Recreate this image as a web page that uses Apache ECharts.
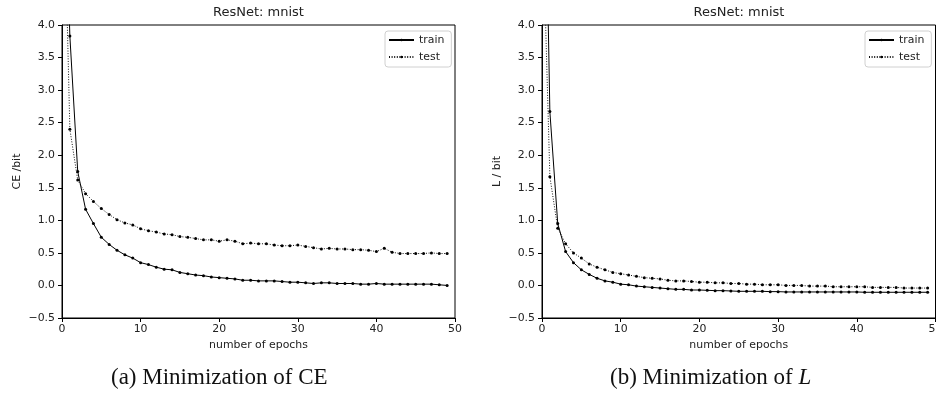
<!DOCTYPE html>
<html>
<head>
<meta charset="utf-8">
<style>
  html, body { margin: 0; padding: 0; background: #fff; }
  #chart { width: 936px; height: 402px; }
</style>
<script src="https://cdn.jsdelivr.net/npm/echarts@6/dist/echarts.min.js"></script>
</head>
<body>
<div id="chart"></div>
<script>
// epochs (x values)
const epochs = [0, 1, 2, 3, 4, 5, 6, 7, 8, 9, 10, 11, 12, 13, 14, 15, 16, 17, 18, 19,
  20, 21, 22, 23, 24, 25, 26, 27, 28, 29, 30, 31, 32, 33, 34, 35, 36, 37, 38, 39,
  40, 41, 42, 43, 44, 45, 46, 47, 48, 49];

// (a) minimization of CE
const ceTrain = [8.0, 3.83, 1.75, 1.17, 0.95, 0.74, 0.63, 0.54, 0.47, 0.42,
  0.35, 0.32, 0.28, 0.25, 0.24, 0.20, 0.18, 0.16, 0.15, 0.13,
  0.12, 0.11, 0.10, 0.08, 0.08, 0.07, 0.07, 0.07, 0.06, 0.05,
  0.05, 0.04, 0.03, 0.04, 0.04, 0.03, 0.03, 0.03, 0.02, 0.02,
  0.03, 0.02, 0.02, 0.02, 0.02, 0.02, 0.02, 0.02, 0.01, 0.00];
const ceTest = [7.4, 2.40, 1.62, 1.41, 1.29, 1.18, 1.09, 1.01, 0.96, 0.93,
  0.87, 0.84, 0.82, 0.79, 0.78, 0.75, 0.74, 0.72, 0.70, 0.70,
  0.68, 0.70, 0.68, 0.64, 0.65, 0.64, 0.64, 0.62, 0.61, 0.61,
  0.62, 0.60, 0.58, 0.56, 0.57, 0.56, 0.56, 0.55, 0.55, 0.54,
  0.52, 0.57, 0.51, 0.49, 0.49, 0.49, 0.49, 0.50, 0.49, 0.49];

// (b) minimization of L
const lTrain = [9.3, 2.67, 0.95, 0.52, 0.35, 0.24, 0.17, 0.11, 0.07, 0.05,
  0.02, 0.01, -0.01, -0.02, -0.03, -0.04, -0.05, -0.06, -0.06, -0.07,
  -0.07, -0.075, -0.08, -0.08, -0.085, -0.09, -0.09, -0.09, -0.09, -0.095,
  -0.095, -0.10, -0.10, -0.10, -0.10, -0.10, -0.10, -0.10, -0.10, -0.10,
  -0.10, -0.105, -0.105, -0.105, -0.105, -0.105, -0.105, -0.105, -0.105, -0.105];
const lTest = [6.0, 1.67, 0.88, 0.64, 0.50, 0.42, 0.33, 0.28, 0.24, 0.20,
  0.18, 0.16, 0.14, 0.12, 0.11, 0.10, 0.08, 0.07, 0.07, 0.06,
  0.05, 0.05, 0.04, 0.04, 0.03, 0.03, 0.02, 0.02, 0.01, 0.01,
  0.01, 0.00, 0.00, 0.00, -0.01, -0.01, -0.01, -0.02, -0.02, -0.02,
  -0.02, -0.02, -0.03, -0.03, -0.03, -0.03, -0.04, -0.04, -0.04, -0.04];

const xTicks = [0, 10, 20, 30, 40, 50];
const yTicks = [-0.5, 0.0, 0.5, 1.0, 1.5, 2.0, 2.5, 3.0, 3.5, 4.0];

const FONT = 'DejaVu Sans';
const TXT = '#222';

const pairs = (ys) => epochs.map((e, i) => [e, ys[i]]);

const makeX = (gridIndex) => ({
  type: 'value',
  gridIndex,
  min: xTicks[0],
  max: xTicks[xTicks.length - 1],
  interval: xTicks[1] - xTicks[0],
  name: 'number of epochs',
  nameLocation: 'middle',
  nameGap: 22,
  nameTextStyle: { fontFamily: FONT, fontSize: 10.9, color: TXT },
  axisLine: { onZero: false, lineStyle: { color: '#000', width: 1 } },
  axisTick: { length: 4, lineStyle: { color: '#000' } },
  axisLabel: { margin: 6, fontFamily: FONT, fontSize: 10.9, color: TXT },
  splitLine: { show: false }
});

const makeY = (gridIndex, name) => ({
  type: 'value',
  gridIndex,
  min: yTicks[0],
  max: yTicks[yTicks.length - 1],
  interval: yTicks[1] - yTicks[0],
  name,
  nameLocation: 'middle',
  nameGap: 39,
  nameTextStyle: { fontFamily: FONT, fontSize: 10.9, color: TXT },
  axisLine: { onZero: false, lineStyle: { color: '#000', width: 1 } },
  axisTick: { length: 4, lineStyle: { color: '#000' } },
  axisLabel: {
    margin: 7, fontFamily: FONT, fontSize: 10.9, color: TXT,
    formatter: (v) => (v < 0 ? '\u2212' : '') + Math.abs(v).toFixed(1)
  },
  splitLine: { show: false }
});

const trainSeries = (name, ys, idx) => ({
  name, type: 'line', xAxisIndex: idx, yAxisIndex: idx,
  data: pairs(ys),
  symbol: 'circle', symbolSize: 3, showSymbol: true,
  clip: true,
  lineStyle: { color: '#000', width: 1 },
  itemStyle: { color: '#000' },
  emphasis: { disabled: true },
  z: 3
});

const testSeries = (name, ys, idx) => ({
  name, type: 'line', xAxisIndex: idx, yAxisIndex: idx,
  data: pairs(ys),
  symbol: 'circle', symbolSize: 3, showSymbol: true,
  clip: true,
  lineStyle: { color: '#111', width: 1, type: [1, 1.6] },
  itemStyle: { color: '#000' },
  emphasis: { disabled: true },
  z: 2
});

const legendBox = (left) => ({
  left, top: 31,
  orient: 'vertical',
  data: ['train', 'test'],
  itemWidth: 25, itemHeight: 3, itemGap: 5,
  padding: [3, 7, 4, 3],
  backgroundColor: '#fff',
  borderColor: '#d0d0d0', borderWidth: 1, borderRadius: 3,
  selectedMode: false,
  textStyle: { fontFamily: FONT, fontSize: 10.9, color: TXT, lineHeight: 12 }
});

const chart = echarts.init(document.getElementById('chart'), null, { renderer: 'canvas' });

chart.setOption({
  animation: false,
  backgroundColor: '#fff',
  title: [
    { text: 'ResNet: mnist', left: 258.5, top: 6, textAlign: 'center', padding: 0,
      textStyle: { fontFamily: FONT, fontSize: 13, fontWeight: 'normal', color: TXT } },
    { text: 'ResNet: mnist', left: 739, top: 6, textAlign: 'center', padding: 0,
      textStyle: { fontFamily: FONT, fontSize: 13, fontWeight: 'normal', color: TXT } }
  ],
  grid: [
    { left: 62, right: 481, top: 25, bottom: 84, outerBoundsMode: 'none',
      show: true, borderColor: '#000', borderWidth: 1 },
    { left: 542, right: 0.5, top: 25, bottom: 84, outerBoundsMode: 'none',
      show: true, borderColor: '#000', borderWidth: 1 }
  ],
  legend: [legendBox(385), legendBox(865)],
  xAxis: [makeX(0), makeX(1)],
  yAxis: [makeY(0, 'CE /bit'), makeY(1, 'L / bit')],
  series: [
    trainSeries('train', ceTrain, 0),
    testSeries('test', ceTest, 0),
    trainSeries('train', lTrain, 1),
    testSeries('test', lTest, 1)
  ],
  graphic: [
    {
      type: 'text', left: 111, top: 366,
      style: { text: '(a) Minimization of CE', font: '23px "Liberation Serif"', fill: '#111' }
    },
    {
      type: 'text', left: 610, top: 366,
      style: {
        text: '(b) Minimization of {i|L}', font: '23px "Liberation Serif"', fill: '#111',
        rich: { i: { fontStyle: 'italic', fontFamily: 'Liberation Serif', fontSize: 23, fill: '#111' } }
      }
    }
  ]
});
</script>
</body>
</html>
